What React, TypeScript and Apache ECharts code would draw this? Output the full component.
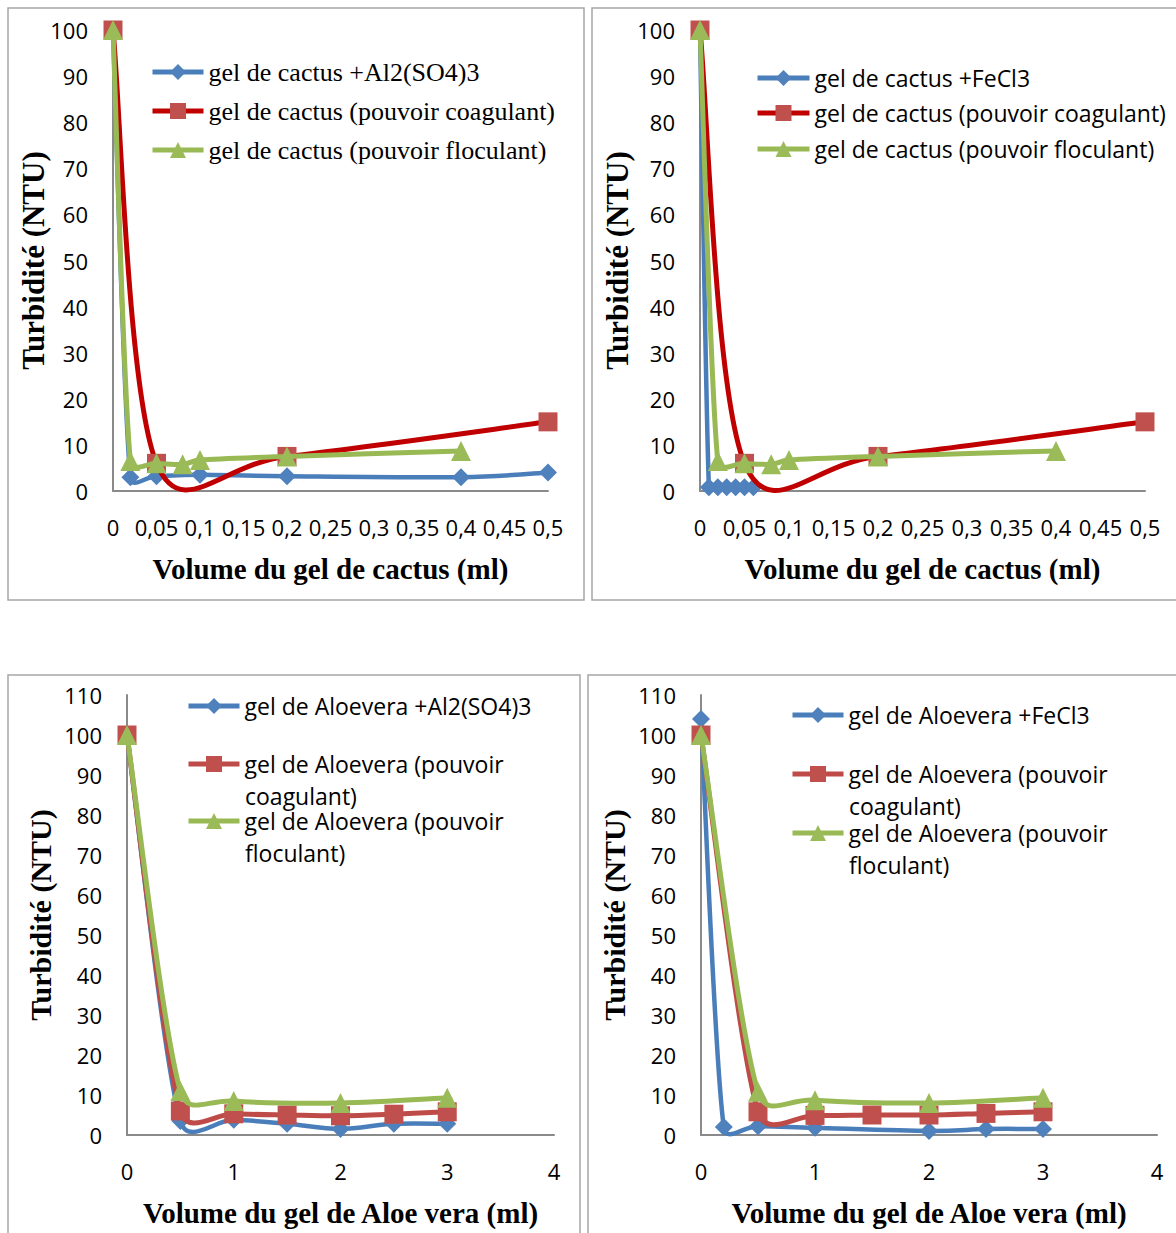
import React, { useEffect, useRef } from "react";
import * as echarts from "echarts";

// ---------- data ----------
const cactusAlX = [0, 0.02, 0.05, 0.1, 0.2, 0.4, 0.5];
const cactusAlY = [100, 3, 3.2, 3.5, 3.2, 3, 4];
const cactusFeX = [0, 0.01, 0.02, 0.03, 0.04, 0.05, 0.06];
const cactusFeY = [100, 0.8, 0.8, 0.8, 0.8, 0.8, 0.8];
const cactusCoagX = [0, 0.05, 0.2, 0.5];
const cactusCoagY = [100, 6, 7.5, 15];
const cactusFlocX = [0, 0.02, 0.05, 0.08, 0.1, 0.2, 0.4];
const cactusFlocY = [100, 6.5, 6, 5.8, 6.7, 7.5, 8.7];

const aloeAlX = [0, 0.5, 1, 1.5, 2, 2.5, 3];
const aloeAlY = [100, 3.5, 3.8, 2.8, 1.5, 2.8, 2.8];
const aloeCoagX = [0, 0.5, 1, 1.5, 2, 2.5, 3];
const aloeCoagY = [100, 6, 5.3, 5, 4.8, 5.2, 5.8];
const aloeFlocX = [0, 0.5, 1, 2, 3];
const aloeFlocY = [100, 11, 8.5, 8, 9.3];

const aloeFeX = [0, 0.2, 0.5, 1, 2, 2.5, 3];
const aloeFeY = [104, 2, 2.2, 1.8, 1, 1.5, 1.5];
const aloeCoag2X = [0, 0.5, 1, 1.5, 2, 2.5, 3];
const aloeCoag2Y = [100, 5.8, 4.9, 5, 5, 5.4, 5.8];
const aloeFloc2X = [0, 0.5, 1, 2, 3];
const aloeFloc2Y = [100, 10.8, 8.7, 8, 9.3];

const namesCactus1 = ["gel de cactus +Al2(SO4)3", "gel de cactus (pouvoir coagulant)", "gel de cactus (pouvoir floculant)"];
const namesCactus2 = ["gel de cactus +FeCl3", "gel de cactus (pouvoir coagulant)", "gel de cactus (pouvoir floculant)"];
const namesAloe1 = ["gel de Aloevera +Al2(SO4)3", "gel de Aloevera (pouvoir\ncoagulant)", "gel de Aloevera (pouvoir\nfloculant)"];
const namesAloe2 = ["gel de Aloevera +FeCl3", "gel de Aloevera (pouvoir\ncoagulant)", "gel de Aloevera (pouvoir\nfloculant)"];

const xTitleCactus = "Volume du gel de cactus (ml)";
const xTitleAloe = "Volume du gel de Aloe vera (ml)";
const yTitle = "Turbidité (NTU)";

// ---------- styles ----------
const SANS = "'Open Sans', sans-serif";
const SERIF = "'Liberation Serif', 'Times New Roman', serif";
const BLUE_LINE = "#4A7EBB";
const BLUE_MK = "#4F81BD";
const RED_DARK = "#C00000";
const RED_LINE = "#BE4B48";
const RED_MK = "#C0504D";
const GREEN_LINE = "#98B954";
const GREEN_MK = "#9BBB59";
const AXIS = "#8a8a8a";
const BORDER = "#a6a6a6";

type Panel = {
  grid: { left: number; top: number; width: number; height: number };
  xMax: number;
  xInt: number;
  yMax: number;
  comma: boolean;
  xName: string;
  xGap: number;
  yGap: number;
  yNameSize: number;
  names: string[];
  xs: number[][];
  ys: number[][];
  redLine: string;
  legendLeft: number;
  legendItemW: number;
  legendY: number[];
  legendFont: string;
  legendSize: number;
};

const panels: Panel[] = [
  {
    grid: { left: 113, top: 30, width: 435, height: 461 },
    xMax: 0.5, xInt: 0.05, yMax: 100, comma: true, xName: xTitleCactus, xGap: 63, yGap: 64, yNameSize: 31,
    names: namesCactus1,
    xs: [cactusAlX, cactusCoagX, cactusFlocX],
    ys: [cactusAlY, cactusCoagY, cactusFlocY],
    redLine: RED_DARK,
    legendLeft: 150, legendItemW: 51, legendY: [72, 111, 150], legendFont: SERIF, legendSize: 26,
  },
  {
    grid: { left: 700, top: 30, width: 445, height: 461 },
    xMax: 0.5, xInt: 0.05, yMax: 100, comma: true, xName: xTitleCactus, xGap: 63, yGap: 67, yNameSize: 31,
    names: namesCactus2,
    xs: [cactusFeX, cactusCoagX, cactusFlocX],
    ys: [cactusFeY, cactusCoagY, cactusFlocY],
    redLine: RED_DARK,
    legendLeft: 755, legendItemW: 52, legendY: [78, 113, 149], legendFont: SANS, legendSize: 23,
  },
  {
    grid: { left: 127, top: 695, width: 427, height: 440 },
    xMax: 4, xInt: 1, yMax: 110, comma: false, xName: xTitleAloe, xGap: 63, yGap: 72, yNameSize: 30,
    names: namesAloe1,
    xs: [aloeAlX, aloeCoagX, aloeFlocX],
    ys: [aloeAlY, aloeCoagY, aloeFlocY],
    redLine: RED_LINE,
    legendLeft: 186, legendItemW: 51, legendY: [706, 764, 821], legendFont: SANS, legendSize: 23,
  },
  {
    grid: { left: 701, top: 695, width: 456, height: 440 },
    xMax: 4, xInt: 1, yMax: 110, comma: false, xName: xTitleAloe, xGap: 63, yGap: 72, yNameSize: 30,
    names: namesAloe2,
    xs: [aloeFeX, aloeCoag2X, aloeFloc2X],
    ys: [aloeFeY, aloeCoag2Y, aloeFloc2Y],
    redLine: RED_LINE,
    legendLeft: 790, legendItemW: 51, legendY: [715, 774, 833], legendFont: SANS, legendSize: 23,
  },
];

// Excel-like smoothed line drawn through the axes' own scale
function smoothLine(data: number[][], idx: number, color: string, width: number, z: number) {
  return {
    type: "custom",
    xAxisIndex: idx,
    yAxisIndex: idx,
    z,
    silent: true,
    data,
    encode: { x: 0, y: 1 },
    renderItem: (params: any, api: any) => {
      if (params.dataIndex !== 0) return null;
      const pts: number[][] = data.map((d) => api.coord(d));
      let d = `M${pts[0][0]},${pts[0][1]}`;
      for (let i = 0; i < pts.length - 1; i++) {
        const p0 = pts[i - 1] || pts[i];
        const p1 = pts[i];
        const p2 = pts[i + 1];
        const p3 = pts[i + 2] || pts[i + 1];
        const d12 = Math.hypot(p2[0] - p1[0], p2[1] - p1[1]);
        const t1 = [p2[0] - p0[0], p2[1] - p0[1]];
        const t2 = [p3[0] - p1[0], p3[1] - p1[1]];
        const l1 = Math.hypot(t1[0], t1[1]) || 1;
        const l2 = Math.hypot(t2[0], t2[1]) || 1;
        const f1 = l1 / 6 > d12 / 2 ? d12 / (2 * l1) : 1 / 6;
        const f2 = l2 / 6 > d12 / 2 ? d12 / (2 * l2) : 1 / 6;
        const c1 = [p1[0] + t1[0] * f1, p1[1] + t1[1] * f1];
        const c2 = [p2[0] - t2[0] * f2, p2[1] - t2[1] * f2];
        d += ` C${c1[0]},${c1[1]} ${c2[0]},${c2[1]} ${p2[0]},${p2[1]}`;
      }
      return {
        type: "path",
        shape: { pathData: d },
        style: { stroke: color, lineWidth: width, fill: "none", lineJoin: "round", lineCap: "round" },
      };
    },
  };
}

function buildOption() {
  const grid: any[] = [];
  const xAxis: any[] = [];
  const yAxis: any[] = [];
  const series: any[] = [];
  const legend: any[] = [];
  const extraTexts: any[] = [];
  const symbols = ["diamond", "rect", "triangle"];
  const symSizes = [18, 19, 20];
  const mkColors = [BLUE_MK, RED_MK, GREEN_MK];

  panels.forEach((p, k) => {
    grid.push({ ...p.grid, containLabel: false, outerBoundsMode: "none" });
    xAxis.push({
      type: "value",
      gridIndex: k,
      min: 0,
      max: p.xMax,
      interval: p.xInt,
      name: p.xName,
      nameLocation: "middle",
      nameGap: p.xGap,
      nameMoveOverlap: false,
      nameTextStyle: { fontFamily: SERIF, fontWeight: "bold", fontSize: 29, color: "#000" },
      axisLine: { show: true, onZero: false, lineStyle: { color: AXIS, width: 2 } },
      axisTick: { show: false },
      splitLine: { show: false },
      axisLabel: {
        margin: 25,
        fontFamily: SANS,
        fontSize: 22,
        color: "#000",
        hideOverlap: false,
        formatter: (v: number) => (p.comma ? String(Math.round(v * 100) / 100).replace(".", ",") : String(v)),
      },
    });
    yAxis.push({
      type: "value",
      gridIndex: k,
      min: 0,
      max: p.yMax,
      interval: 10,
      name: yTitle,
      nameLocation: "middle",
      nameGap: p.yGap,
      nameMoveOverlap: false,
      nameTextStyle: { fontFamily: SERIF, fontWeight: "bold", fontSize: p.yNameSize, color: "#000" },
      axisLine: { show: true, lineStyle: { color: AXIS, width: 2 } },
      axisTick: { show: false },
      splitLine: { show: false },
      axisLabel: { margin: 25, fontFamily: SANS, fontSize: 22, color: "#000" },
    });

    const lineColors = [BLUE_LINE, p.redLine, GREEN_LINE];
    const lineWidths = [4.5, 5, 5];
    for (let j = 0; j < 3; j++) {
      const data = p.xs[j].map((x, i) => [x, p.ys[j][i]]);
      series.push(smoothLine(data, k, lineColors[j], lineWidths[j], 2 + j * 2));
      series.push({
        type: "line",
        name: p.names[j],
        xAxisIndex: k,
        yAxisIndex: k,
        data,
        z: 3 + j * 2,
        symbol: symbols[j],
        symbolSize: symSizes[j],
        showAllSymbol: true,
        itemStyle: { color: mkColors[j], opacity: 1 },
        lineStyle: { opacity: 0, width: 0 },
        silent: true,
      });

      const lines = p.names[j].split("\n");
      const L = lines.length > 1 ? 24 : 28;
      legend.push({
        show: true,
        orient: "vertical",
        left: p.legendLeft,
        top: p.legendY[j] - L / 2,
        padding: 0,
        itemWidth: p.legendItemW,
        itemHeight: 20,
        selectedMode: false,
        formatter: (name: string) => name.split("\n")[0],
        textStyle: {
          fontFamily: p.legendFont,
          fontSize: p.legendSize,
          color: "#000",
          lineHeight: L,
        },
        data: [
          {
            name: p.names[j],
            lineStyle: { color: lineColors[j], width: 5, opacity: 1, type: "solid" },
            itemStyle: { color: mkColors[j], opacity: 1 },
          },
        ],
      });
      // wrapped continuation of a long legend label
      for (let li = 1; li < lines.length; li++) {
        extraTexts.push({
          type: "text",
          silent: true,
          x: p.legendLeft + p.legendItemW + 8,
          y: p.legendY[j] + 32 * li,
          style: {
            text: lines[li],
            fontFamily: p.legendFont,
            fontSize: p.legendSize,
            lineHeight: 24,
            fill: "#000",
            align: "left",
            verticalAlign: "middle",
          },
        });
      }
    }
  });

  const rect = (x: number, y: number, w: number, h: number) => ({
    type: "rect",
    silent: true,
    z: -1,
    shape: { x, y, width: w, height: h },
    style: { fill: "none", stroke: BORDER, lineWidth: 1.5 },
  });

  return {
    animation: false,
    backgroundColor: "#ffffff",
    grid,
    xAxis,
    yAxis,
    legend,
    series,
    graphic: [
      rect(8, 8, 576, 592),
      rect(592, 8, 620, 592),
      rect(8, 675, 572, 620),
      rect(588, 675, 620, 620),
      ...extraTexts,
    ],
  };
}

export default function App() {
  const ref = useRef<HTMLDivElement>(null);
  useEffect(() => {
    if (!ref.current) return;
    const chart = echarts.init(ref.current, undefined, { renderer: "svg" });
    chart.setOption(buildOption() as any);
    return () => chart.dispose();
  }, []);
  return (
    <div
      ref={ref}
      style={{ position: "absolute", left: 0, top: 0, width: 1176, height: 1233, background: "#fff" }}
    />
  );
}
